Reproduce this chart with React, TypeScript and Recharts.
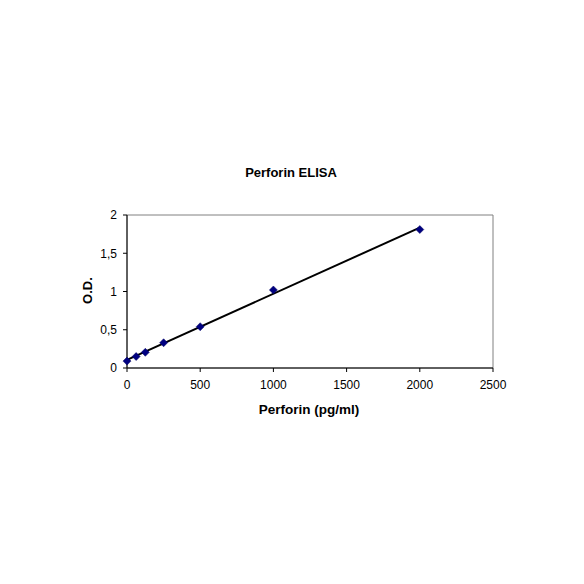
import React from 'react';
import { ComposedChart, Scatter, XAxis, YAxis, ReferenceArea } from 'recharts';

const concentrations = [0, 62.5, 125, 250, 500, 1000, 2000];
const odValues = [0.09, 0.15, 0.205, 0.33, 0.54, 1.02, 1.81];
const xTicks = [0, 500, 1000, 1500, 2000, 2500];
const yTicks = [0, 0.5, 1, 1.5, 2];

const points = concentrations.map((x, i) => ({ x, y: odValues[i] }));

const font = '"Liberation Sans", Arial, sans-serif';

const Diamond = (props: any) => {
  const { cx, cy } = props;
  if (cx == null || cy == null) return null;
  const r = 4;
  return (
    <polygon
      points={`${cx},${cy - r} ${cx + r},${cy} ${cx},${cy + r} ${cx - r},${cy}`}
      fill="#000080"
      stroke="#000060"
      strokeWidth={0.5}
    />
  );
};

export default function App() {
  return (
    <div style={{ position: 'relative', width: 576, height: 576, background: '#fff', fontFamily: font }}>
      <ComposedChart
        width={576}
        height={576}
        margin={{ top: 207, right: 91, bottom: 186, left: 89 }}
      >
        <XAxis
          type="number"
          dataKey="x"
          domain={[0, 2500]}
          ticks={xTicks}
          tickSize={4}
          tickMargin={8}
          height={30}
          stroke="#000"
          tick={{ fill: '#000', fontSize: 12, fontFamily: font }}
          axisLine={{ stroke: '#000' }}
          tickLine={{ stroke: '#000' }}
        />
        <YAxis
          type="number"
          dataKey="y"
          domain={[0, 2]}
          ticks={yTicks}
          tickFormatter={(v: number) => String(v).replace('.', ',')}
          tickSize={4}
          tickMargin={6}
          width={30}
          stroke="#000"
          tick={{ fill: '#000', fontSize: 12, fontFamily: font }}
          axisLine={{ stroke: '#000' }}
          tickLine={{ stroke: '#000' }}
        />
        <ReferenceArea x1={0} x2={2500} y1={0} y2={2} fill="none" stroke="#808080" strokeWidth={1} ifOverflow="visible" />
        <Scatter
          data={points}
          dataKey="y"
          fill="#000080"
          shape={Diamond}
          line={{ stroke: '#000', strokeWidth: 2 }}
          lineType="fitting"
          isAnimationActive={false}
        />
      </ComposedChart>
      <div style={{ position: 'absolute', left: 0, width: 566, top: 157, textAlign: 'center', fontWeight: 'bold', fontSize: 13 }}>
        Perforin ELISA
      </div>
      <div style={{ position: 'absolute', left: 201, width: 200, top: 394, textAlign: 'center', fontWeight: 'bold', fontSize: 13.5 }}>
        Perforin (pg/ml)
      </div>
      <div style={{ position: 'absolute', left: 49, width: 60, top: 275, textAlign: 'center', fontWeight: 'bold', fontSize: 13, transform: 'rotate(-90deg)' }}>
        O.D.
      </div>
    </div>
  );
}
